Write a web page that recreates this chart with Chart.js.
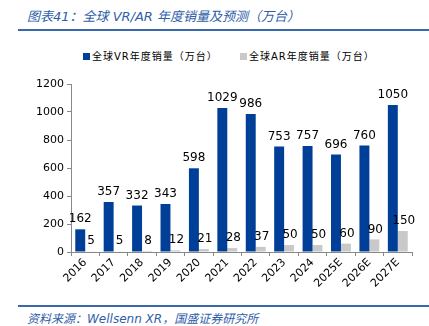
<!DOCTYPE html>
<html>
<head>
<meta charset="utf-8">
<script src="https://cdn.jsdelivr.net/npm/chart.js@4"></script>
<style>
  body { margin: 0; background: #fff; width: 429px; height: 326px; position: relative; overflow: hidden;
         font-family: "DejaVu Sans", "Noto Sans CJK SC", sans-serif; }
  #title { position: absolute; left: 27px; top: 6px; font-size: 13px; font-style: italic; color: #2f5ea9;
           font-family: "DejaVu Sans", "Noto Sans CJK SC", sans-serif; white-space: nowrap; }
  #topline { position: absolute; left: 18px; right: 0; top: 29px; height: 2px; background: #3a68ad; }
  .item { position: absolute; top: 48px; font-size: 10px; color: #000; white-space: nowrap; letter-spacing: 1px; }
  .item span.box { display: inline-block; width: 7px; height: 7px; margin-right: 2px; vertical-align: 0px; }
  #wrap { position: absolute; left: 0; top: 70px; width: 429px; height: 230px; }
  #botline { position: absolute; left: 18px; right: 0; top: 305px; height: 2px; background: #3a68ad; }
  #source { position: absolute; left: 27px; top: 309px; font-size: 12px; font-style: italic; color: #2f5ea9; white-space: nowrap; }
</style>
</head>
<body>
<div id="title">图表41：全球 VR/AR 年度销量及预测（万台）</div>
<div id="topline"></div>
<span class="item" style="left:83px"><span class="box" style="background:#003f98"></span>全球VR年度销量（万台）</span>
<span class="item" style="left:240px"><span class="box" style="background:#c9c9c9"></span>全球AR年度销量（万台）</span>
<div id="wrap"><canvas id="barChart"></canvas></div>
<div id="botline"></div>
<div id="source">资料来源：Wellsenn XR，国盛证券研究所</div>

<script>
// 연도 (x축)
let years = ['2016','2017','2018','2019','2020','2021','2022','2023','2024','2025E','2026E','2027E'];
// VR 판매량 (만대)
let vrSales = [162, 357, 332, 343, 598, 1029, 986, 753, 757, 696, 760, 1050];
// AR 판매량 (만대)
let arSales = [5, 5, 8, 12, 21, 28, 37, 50, 50, 60, 90, 150];
// y축 눈금
let yTicks = [0, 200, 400, 600, 800, 1000, 1200];

// 막대 위에 숫자 그리기
const barLabels = {
  id: 'barLabels',
  afterDatasetsDraw(chart) {
    const ctx = chart.ctx;
    ctx.save();
    ctx.font = '12px "DejaVu Sans", sans-serif';
    ctx.fillStyle = '#000';
    ctx.textAlign = 'center';
    ctx.textBaseline = 'bottom';
    chart.data.datasets.forEach((ds, i) => {
      chart.getDatasetMeta(i).data.forEach((bar, j) => {
        ctx.fillText(ds.data[j], bar.x + (i == 1 ? 1 : 0), bar.y - 4);
      });
    });
    ctx.restore();
  }
};

new Chart(document.getElementById('barChart'), {
  type: 'bar',
  data: {
    labels: years,
    datasets: [
      { label: '全球VR年度销量（万台）', data: vrSales, backgroundColor: '#003f98',
        categoryPercentage: 0.7, barPercentage: 1.0 },
      { label: '全球AR年度销量（万台）', data: arSales, backgroundColor: '#c9c9c9',
        categoryPercentage: 0.7, barPercentage: 1.0 }
    ]
  },
  options: {
    responsive: true,
    maintainAspectRatio: false,
    animation: false,
    layout: { padding: { top: 14, right: 17, left: 0, bottom: 0 } },
    plugins: { legend: { display: false }, tooltip: { enabled: false } },
    scales: {
      x: {
        grid: { display: true, offset: true, drawOnChartArea: false, tickLength: 4, color: '#888' },
        border: { color: '#888' },
        ticks: { color: '#000', font: { size: 11, family: 'DejaVu Sans' }, maxRotation: 45, minRotation: 45, padding: 0 },
        afterFit(axis) { axis.height = 48; }
      },
      y: {
        min: 0, max: 1200,
        afterBuildTicks(axis) { axis.ticks = yTicks.map(v => ({ value: v })); },
        grid: { display: true, drawOnChartArea: false, tickLength: 4, color: '#888' },
        border: { color: '#888' },
        ticks: { color: '#000', font: { size: 11, family: 'DejaVu Sans' }, padding: 3,
                 callback: v => String(v) },
        afterFit(axis) { axis.width = 71; }
      }
    }
  },
  plugins: [barLabels]
});
</script>
</body>
</html>
